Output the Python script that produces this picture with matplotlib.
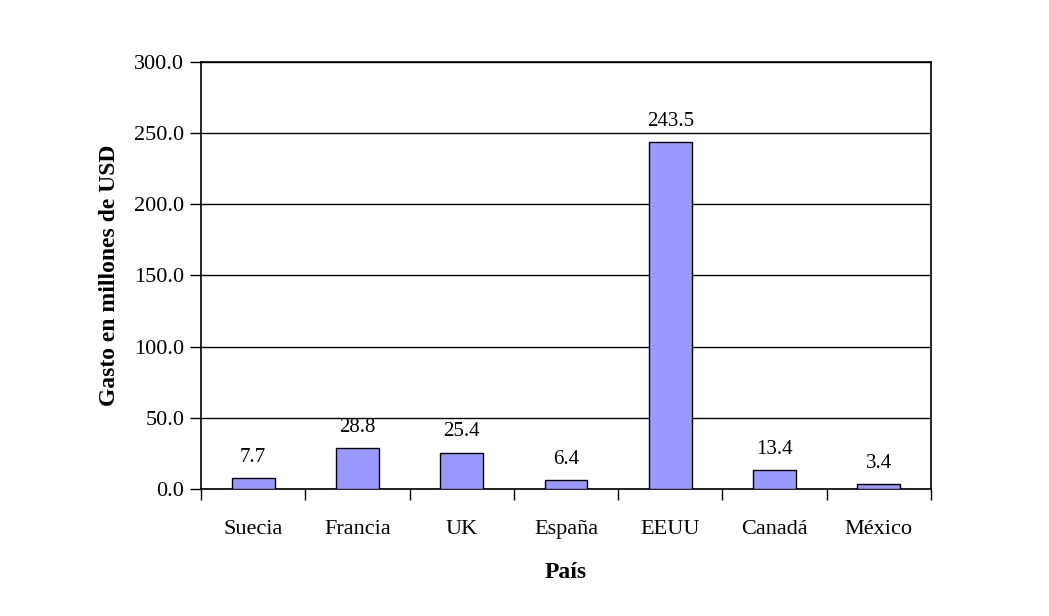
import numpy as np
import matplotlib
matplotlib.use('Agg')
from matplotlib import pyplot as plt
from matplotlib.ticker import FormatStrFormatter

paises = ['Suecia', 'Francia', 'UK', 'España', 'EEUU', 'Canadá', 'México']
gasto = [7.7, 28.8, 25.4, 6.4, 243.5, 13.4, 3.4]
yticks = [0, 50, 100, 150, 200, 250, 300]

plt.rcParams['font.family'] = ['Liberation Serif', 'DejaVu Serif']

fig = plt.figure(figsize=(10.49, 6.16), dpi=100)
ax = fig.add_axes([201/1049, 1 - 489/616, 730/1049, 427/616])

x = np.arange(len(paises))
ax.bar(x, gasto, width=0.41, color='#9999FF', edgecolor='black', linewidth=1, zorder=3)
for xi, v in zip(x, gasto):
    ax.text(xi, v + 8, '%.1f' % v, ha='center', va='bottom', fontsize=15)

ax.set_xlim(-0.5, len(paises) - 0.5)
ax.set_ylim(0, 300)
ax.set_yticks(yticks)
ax.yaxis.set_major_formatter(FormatStrFormatter('%.1f'))
ax.grid(axis='y', color='black', linewidth=1, zorder=0)

# ticks between categories
ax.set_xticks(np.arange(len(paises) + 1) - 0.5)
ax.set_xticklabels([])
ax.set_xticks(x, minor=True)
ax.set_xticklabels(paises, minor=True, fontsize=16)
ax.tick_params(axis='x', which='major', direction='out', length=8, width=1, colors='black')
ax.tick_params(axis='x', which='minor', length=0, pad=22)
ax.tick_params(axis='y', direction='out', length=8, width=1, labelsize=16, pad=4)

for s in ax.spines.values():
    s.set_linewidth(1.2)

ax.set_xlabel('País', fontsize=17, fontweight='bold', labelpad=17)
ax.set_ylabel('Gasto en millones de USD', fontsize=17, fontweight='bold', labelpad=10)

fig.savefig('out.png', dpi=100)
